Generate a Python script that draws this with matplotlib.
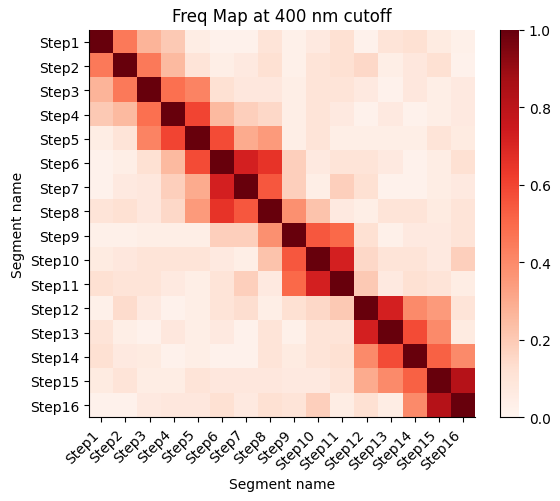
import matplotlib
matplotlib.use('Agg')
import matplotlib.pyplot as plt
import numpy as np

# Segment labels
segments = ['Step%d' % i for i in range(1, 17)]

# Frequency values, one list per row
row01 = [1.00, 0.45, 0.27, 0.20, 0.05, 0.02, 0.02, 0.10, 0.03, 0.07, 0.12, 0.02, 0.10, 0.12, 0.06, 0.03]
row02 = [0.45, 1.00, 0.45, 0.25, 0.10, 0.04, 0.07, 0.12, 0.03, 0.10, 0.12, 0.15, 0.04, 0.08, 0.12, 0.02]
row03 = [0.27, 0.45, 1.00, 0.48, 0.42, 0.12, 0.08, 0.08, 0.04, 0.10, 0.10, 0.07, 0.02, 0.08, 0.04, 0.07]
row04 = [0.20, 0.25, 0.48, 1.00, 0.60, 0.25, 0.18, 0.15, 0.04, 0.10, 0.07, 0.02, 0.07, 0.02, 0.04, 0.07]
row05 = [0.05, 0.10, 0.42, 0.60, 1.00, 0.58, 0.30, 0.35, 0.04, 0.10, 0.04, 0.04, 0.04, 0.04, 0.10, 0.06]
row06 = [0.02, 0.04, 0.12, 0.25, 0.58, 1.00, 0.72, 0.65, 0.18, 0.07, 0.10, 0.10, 0.07, 0.02, 0.05, 0.12]
row07 = [0.02, 0.07, 0.08, 0.18, 0.30, 0.72, 1.00, 0.55, 0.18, 0.04, 0.18, 0.12, 0.02, 0.02, 0.05, 0.07]
row08 = [0.10, 0.12, 0.08, 0.15, 0.35, 0.65, 0.55, 1.00, 0.38, 0.22, 0.07, 0.04, 0.10, 0.10, 0.06, 0.10]
row09 = [0.03, 0.03, 0.04, 0.04, 0.04, 0.18, 0.18, 0.38, 1.00, 0.55, 0.50, 0.12, 0.03, 0.07, 0.07, 0.10]
row10 = [0.06, 0.08, 0.10, 0.10, 0.10, 0.07, 0.04, 0.22, 0.55, 1.00, 0.72, 0.15, 0.10, 0.10, 0.07, 0.18]
row11 = [0.12, 0.10, 0.10, 0.07, 0.04, 0.10, 0.18, 0.07, 0.50, 0.72, 1.00, 0.20, 0.07, 0.12, 0.10, 0.05]
row12 = [0.03, 0.14, 0.07, 0.02, 0.04, 0.10, 0.13, 0.04, 0.12, 0.15, 0.20, 1.00, 0.72, 0.40, 0.35, 0.10]
row13 = [0.10, 0.04, 0.02, 0.08, 0.04, 0.07, 0.02, 0.10, 0.03, 0.10, 0.10, 0.72, 1.00, 0.58, 0.40, 0.06]
row14 = [0.12, 0.07, 0.06, 0.02, 0.04, 0.02, 0.02, 0.10, 0.06, 0.10, 0.12, 0.40, 0.58, 1.00, 0.52, 0.40]
row15 = [0.06, 0.10, 0.05, 0.05, 0.10, 0.08, 0.08, 0.08, 0.07, 0.07, 0.10, 0.30, 0.40, 0.52, 1.00, 0.82]
row16 = [0.02, 0.02, 0.07, 0.08, 0.08, 0.12, 0.07, 0.12, 0.10, 0.18, 0.05, 0.12, 0.05, 0.40, 0.82, 1.00]

freq = np.array([row01, row02, row03, row04, row05, row06, row07, row08,
                 row09, row10, row11, row12, row13, row14, row15, row16])

fig = plt.figure(figsize=(5.6, 5.02), dpi=100)
ax = fig.add_axes([0.1595, 0.1667, 0.6888, 0.7721])
cax = fig.add_axes([0.8929, 0.1667, 0.0339, 0.7721])

im = ax.imshow(freq, cmap='Reds', vmin=0, vmax=1, aspect='auto')
cbar = fig.colorbar(im, cax=cax)
# only left and bottom edges on the colorbar, like a despined heatmap
cbar.outline.set_visible(False)
for side in ['left', 'bottom']:
    cax.spines[side].set_visible(True)

ax.set_xticks(range(len(segments)))
ax.set_xticklabels(segments, rotation=45, ha='right')
ax.set_yticks(range(len(segments)))
ax.set_yticklabels(segments)
ax.spines['top'].set_visible(False)
ax.spines['right'].set_visible(False)

ax.set_xlabel('Segment name')
ax.set_ylabel('Segment name')
ax.set_title('Freq Map at 400 nm cutoff')

plt.savefig('out.png')
